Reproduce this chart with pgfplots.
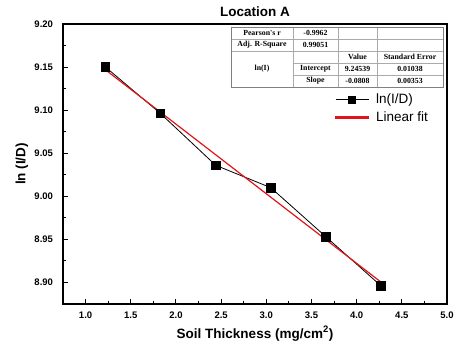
\documentclass[border=0pt]{standalone}
\usepackage{pgfplots}
\pgfplotsset{compat=1.18}
\usepackage{fontspec}
\setmainfont{Liberation Sans}
\newfontfamily\tabfont{Liberation Serif}
\definecolor{fitred}{RGB}{225,20,25}
\definecolor{tabgray}{RGB}{170,170,170}
\begin{document}
\begin{tikzpicture}
\begin{axis}[
  name=ax,
  scale only axis,
  width=384bp, height=280bp,
  xmin=0.75, xmax=5.0,
  ymin=8.875, ymax=9.20,
  xtick={1,1.5,...,5.01},
  ytick={8.90,8.95,...,9.201},
  minor tick num=1,
  xtick pos=bottom, ytick pos=left,
  tick align=inside,
  major tick length=5bp, minor tick length=3bp,
  axis line style={line width=1.1bp},
  every tick/.style={line width=0.9bp, black},
  /pgf/number format/assume math mode=true,
  xticklabel style={/pgf/number format/fixed, /pgf/number format/fixed zerofill, /pgf/number format/precision=1, font=\fontsize{9.5bp}{11bp}\selectfont\bfseries, yshift=-4.5bp},
  yticklabel style={/pgf/number format/fixed, /pgf/number format/fixed zerofill, /pgf/number format/precision=2, font=\fontsize{9.5bp}{11bp}\selectfont\bfseries, xshift=-6.5bp},
  xlabel={Soil Thickness (mg/cm$^{\mathbf{2}}$)},
  ylabel={ln (I/D)},
  xlabel style={font=\fontsize{13.5bp}{15bp}\selectfont\bfseries, at={(axis description cs:0.5,0)}, anchor=base, yshift=-34bp},
  ylabel style={font=\fontsize{13.5bp}{15bp}\selectfont\bfseries, at={(axis description cs:-0.107,0.5)}, anchor=center},
  title={Location A},
  title style={font=\fontsize{13.5bp}{15bp}\selectfont\bfseries, at={(axis description cs:0.5,1)}, anchor=base, yshift=2bp},
  legend style={draw=none, fill=none, at={(rel axis cs:0.70,0.765)}, anchor=north west, font=\fontsize{13.5bp}{15bp}\selectfont, row sep=2.5bp, legend cell align=left},
]
\addplot[black, line width=0.8bp, mark=square*, mark size=4.3bp, mark options={solid, fill=black},
  legend image code/.code={\draw[black, line width=0.9bp] (0bp,0bp) -- (33bp,0bp); \fill[black] (12.9bp,-3.6bp) rectangle (20.1bp,3.6bp);}]
  coordinates {(1.22,9.150) (1.83,9.096) (2.44,9.036) (3.05,9.010) (3.66,8.953) (4.27,8.896)};
\addlegendentry{\hspace{5bp}ln(I/D)}
\addplot[color=fitred, line width=1.2bp,
  legend image code/.code={\fill[fitred] (0bp,-0.8bp) rectangle (33bp,0.8bp);}]
  coordinates {(1.22,9.14681) (4.27,8.90037)};
\addlegendentry{\hspace{5bp}Linear fit}
\end{axis}
\begin{scope}[shift={(ax.south west)}, x=1bp, y=1bp]
  % table, image px (X,Y) -> (X-63, 304-Y)
  \fill[white] (168,217) rectangle (380,277);
  \draw[tabgray, line width=0.5bp] (168,265) -- (380,265);
  \draw[tabgray, line width=0.5bp] (168,253) -- (380,253);
  \draw[tabgray, line width=0.5bp] (230,241) -- (380,241);
  \draw[tabgray, line width=0.5bp] (230,229) -- (380,229);
  \draw[tabgray, line width=0.5bp] (230,217) -- (230,277);
  \draw[tabgray, line width=0.5bp] (275,217) -- (275,277);
  \draw[tabgray, line width=0.5bp] (314,217) -- (314,277);
  \draw[gray, line width=0.7bp] (168,217) rectangle (380,277);
  \begin{scope}[every node/.style={font=\tabfont\fontsize{7.8bp}{9bp}\selectfont\bfseries, inner sep=0pt, anchor=center}]
    \node at (199,271) {Pearson's r};
    \node at (252.5,271) {-0.9962};
    \node at (199,259) {Adj. R-Square};
    \node at (252.5,259) {0.99051};
    \node at (294.5,247) {Value};
    \node at (347,247) {Standard Error};
    \node at (199,235) {ln(I)};
    \node at (252.5,235) {Intercept};
    \node at (294.5,235) {9.24539};
    \node at (347,235) {0.01038};
    \node at (252.5,223) {Slope};
    \node at (294.5,223) {-0.0808};
    \node at (347,223) {0.00353};
  \end{scope}
  \pgfresetboundingbox
  \path (-63,-43) rectangle (391,304);
\end{scope}
\end{tikzpicture}
\end{document}
